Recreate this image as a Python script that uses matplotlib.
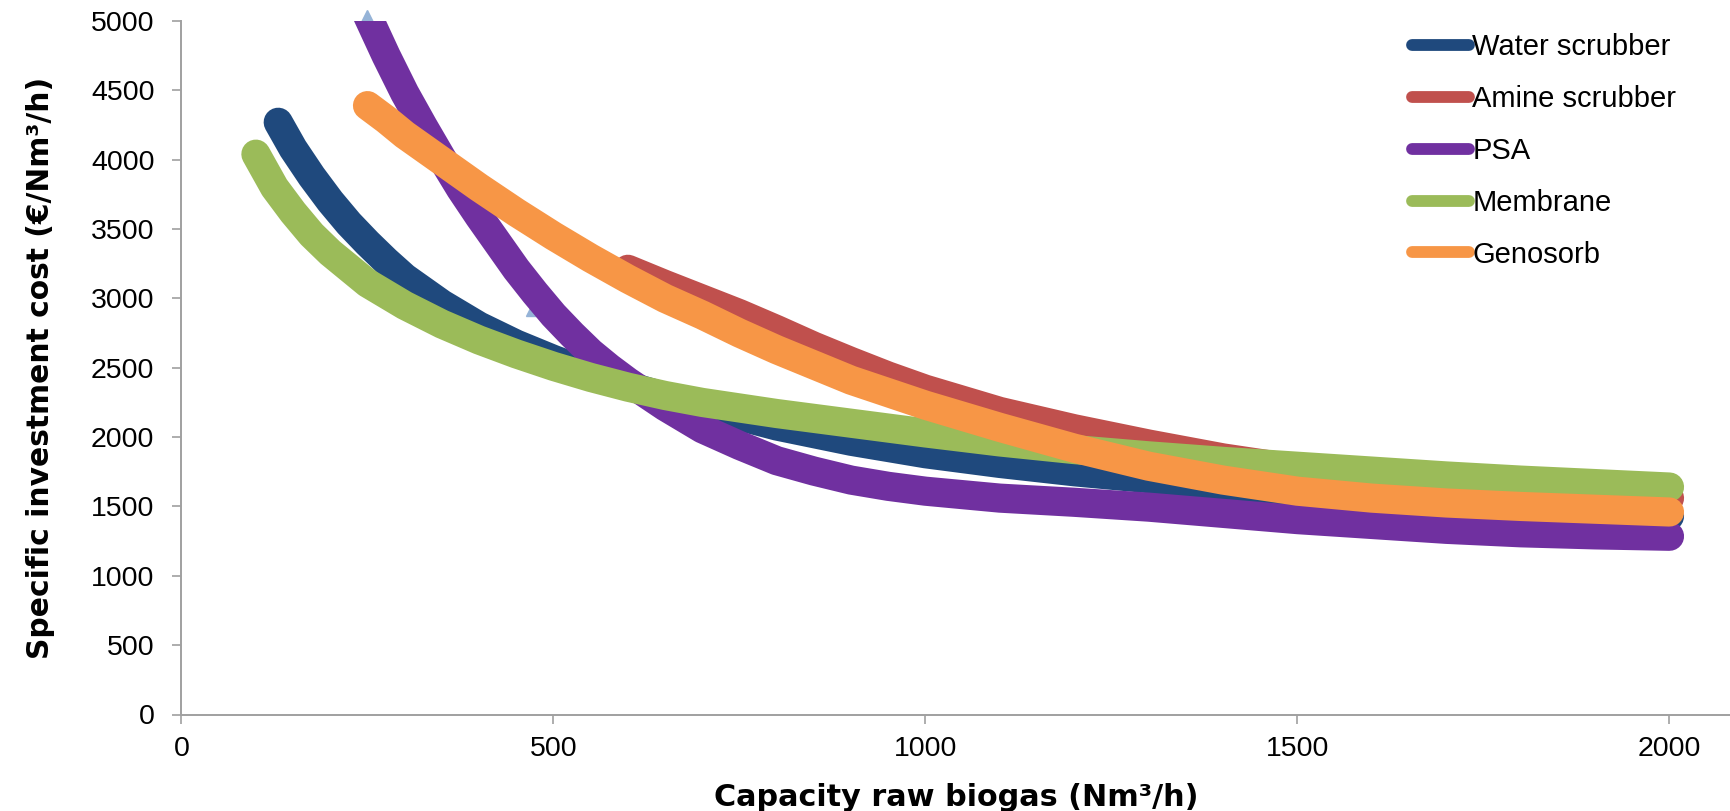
import matplotlib
matplotlib.use("Agg")
import matplotlib.pyplot as plt
from matplotlib.lines import Line2D

plt.rcParams['font.family'] = ['Liberation Sans', 'DejaVu Sans']

# ---- data ----
water_x = [130, 150, 175, 200, 225, 250, 275, 300, 350, 400, 450, 500, 550, 600, 650, 700,
           800, 900, 1000, 1100, 1200, 1300, 1400, 1500, 1600, 1700, 1800, 1900, 2000]
water_y = [4270, 4080, 3880, 3700, 3540, 3400, 3270, 3150, 2960, 2800, 2670, 2560, 2460, 2370, 2290, 2220,
           2080, 1970, 1880, 1810, 1750, 1700, 1650, 1610, 1570, 1530, 1495, 1460, 1430]

amine_x = [600, 650, 700, 750, 800, 850, 900, 950, 1000, 1100, 1200, 1300, 1400, 1500,
           1600, 1700, 1800, 1900, 2000]
amine_y = [3210, 3100, 2995, 2890, 2775, 2655, 2545, 2440, 2345, 2185, 2060, 1950, 1850, 1770,
           1710, 1660, 1620, 1590, 1560]

psa_x = [250, 275, 300, 325, 350, 375, 400, 425, 450, 475, 500, 525, 550, 575, 600, 650, 700,
         750, 800, 850, 900, 950, 1000, 1100, 1200, 1300, 1400, 1500, 1600, 1700, 1800, 1900, 2000]
psa_y = [5040, 4750, 4480, 4240, 4010, 3790, 3590, 3400, 3210, 3040, 2880, 2740, 2610, 2500, 2400, 2220, 2060,
         1940, 1830, 1755, 1690, 1645, 1610, 1560, 1530, 1495, 1450, 1405, 1370, 1335, 1310, 1295, 1285]

membrane_x = [100, 125, 150, 175, 200, 250, 300, 350, 400, 450, 500, 550, 600, 650, 700, 800, 900,
              1000, 1100, 1200, 1300, 1400, 1500, 1600, 1700, 1800, 1900, 2000]
membrane_y = [4040, 3800, 3620, 3460, 3330, 3110, 2950, 2815, 2700, 2600, 2510, 2430, 2360, 2300, 2250, 2170, 2100,
              2030, 1965, 1910, 1865, 1825, 1790, 1755, 1720, 1690, 1665, 1640]

genosorb_x = [250, 275, 300, 350, 400, 450, 500, 550, 600, 650, 700, 750, 800, 850, 900, 950,
              1000, 1100, 1200, 1300, 1400, 1500, 1600, 1700, 1800, 1900, 2000]
genosorb_y = [4390, 4290, 4180, 3990, 3800, 3620, 3450, 3290, 3140, 3000, 2880, 2750, 2630, 2520, 2410, 2320,
              2230, 2070, 1920, 1790, 1690, 1610, 1560, 1525, 1500, 1480, 1460]

marker_x = [249, 471]
marker_y = [5035, 2915]

series_names = ["Water scrubber", "Amine scrubber", "PSA", "Membrane", "Genosorb"]
colors = ["#1F497D", "#C0504D", "#7030A0", "#9BBB59", "#F79646"]

x_ticks = [0, 500, 1000, 1500, 2000]
y_ticks = [0, 500, 1000, 1500, 2000, 2500, 3000, 3500, 4000, 4500, 5000]

W, H, DPI = 1731, 811, 100
fig = plt.figure(figsize=(W / DPI, H / DPI), dpi=DPI)
ax_left, ax_bottom_px, ax_top_px = 181.5, 714.5, 21
ax = fig.add_axes([ax_left / W, 1 - ax_bottom_px / H, 1 - ax_left / W, (ax_bottom_px - ax_top_px) / H])

ax.plot(marker_x, marker_y, linestyle='none', marker='^', markersize=9,
        color='#95B3D7', zorder=1, clip_on=False)

data = [(water_x, water_y), (amine_x, amine_y), (psa_x, psa_y),
        (membrane_x, membrane_y), (genosorb_x, genosorb_y)]
for i, ((xs, ys), name, c) in enumerate(zip(data, series_names, colors)):
    ax.plot(xs, ys, color=c, lw=21, solid_capstyle='round', solid_joinstyle='round',
            zorder=2 + i)

ax.set_xlim(0, (W - ax_left) / 0.744)
ax.set_ylim(0, 5000)
ax.set_xticks(x_ticks)
ax.set_yticks(y_ticks)

spine_color = '#A0A0A0'
for s in ['top', 'right']:
    ax.spines[s].set_visible(False)
for s in ['left', 'bottom']:
    ax.spines[s].set_color(spine_color)
    ax.spines[s].set_linewidth(1.4)
ax.tick_params(axis='both', direction='out', length=6.5, width=1.2, color=spine_color,
               labelsize=20.5, labelcolor='black')
ax.tick_params(axis='y', pad=13)
ax.tick_params(axis='x', pad=9)

ax_w_px = W - ax_left
ax_h_px = ax_bottom_px - ax_top_px
ax.set_xlabel("Capacity raw biogas (Nm³/h)", fontsize=21.8, fontweight='bold',
              family=['DejaVu Sans'], va='baseline')
ax.xaxis.set_label_coords(0.5, -(806.5 - ax_bottom_px) / ax_h_px)
ax.set_ylabel("Specific investment cost (€/Nm³/h)", fontsize=21.4, fontweight='bold',
              family=['DejaVu Sans'], va='baseline')
ax.yaxis.set_label_coords(-(ax_left - 49.5) / ax_w_px, 0.5)

handles = [Line2D([0], [0], color=c, lw=8.5, solid_capstyle='round') for c in colors]
leg = fig.legend(handles, series_names, loc='upper left',
                 bbox_to_anchor=(1412 / W, 1 - 33 / H), bbox_transform=fig.transFigure,
                 frameon=False, fontsize=21, handlelength=1.95, handletextpad=0.12,
                 labelspacing=0.82, borderpad=0, borderaxespad=0)

fig.savefig("out.png", dpi=DPI)
